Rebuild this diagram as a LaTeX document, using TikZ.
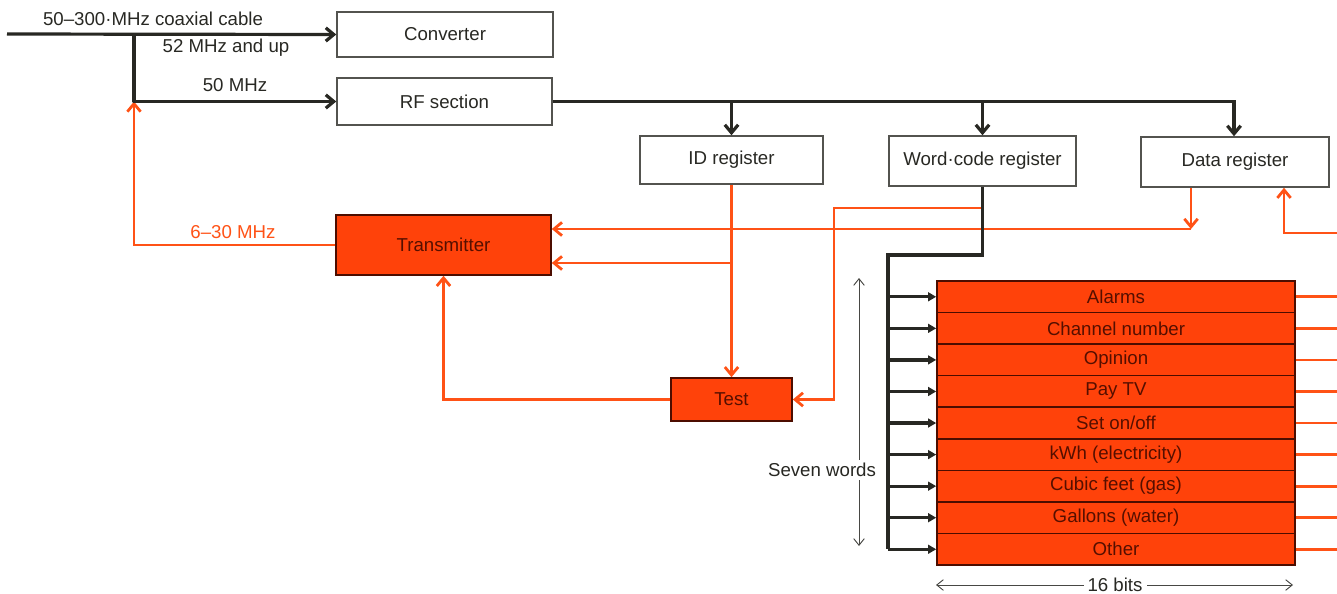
\documentclass[tikz,border=0pt]{standalone}
\usepackage{fontspec}
\setmainfont{Liberation Sans}
\usetikzlibrary{arrows.meta}
\definecolor{org}{RGB}{255,82,22}
\definecolor{orgfill}{RGB}{255,66,10}
\definecolor{ink}{RGB}{40,40,35}
\definecolor{redink}{RGB}{85,15,0}
\begin{document}
\begin{tikzpicture}[x=0.75pt,y=-0.75pt,
 font=\fontsize{14}{16}\selectfont,
 wbox/.style={draw=ink!80, line width=1.1pt, fill=white, inner sep=0pt, text=ink},
 obox/.style={draw=redink!90!black, line width=1.2pt, fill=orgfill, inner sep=0pt, text=redink},
 bl/.style={draw=ink, line width=2.4pt},
 ol/.style={draw=org, line width=2.1pt},
 barb/.style={-{Straight Barb[length=6pt,width=10pt]}},
 tri/.style={-{Triangle[length=6pt,width=6.5pt]}},
 thinarr/.style={draw=ink!85, line width=0.7pt, {Straight Barb[length=5pt,width=8pt]}-{Straight Barb[length=5pt,width=8pt]}},
 lbl/.style={text=ink, inner sep=1pt},
]
\useasboundingbox (0,0) rectangle (1337,593);

% boxes
\node[wbox, minimum width=162pt, minimum height=33.75pt] (conv) at (445,34.5) {Converter};
\node[wbox, minimum width=161.25pt, minimum height=35.25pt] (rf) at (444.5,101.5) {RF section};
\node[wbox, minimum width=137.25pt, minimum height=36pt] (idr) at (731.5,160) {ID register};
\node[wbox, minimum width=140.25pt, minimum height=37.5pt] (wcr) at (982.5,161) {Word·code register};
\node[wbox, minimum width=141pt, minimum height=37.5pt] (dr) at (1235,162) {Data register};
\node[obox, minimum width=161.25pt, minimum height=45pt] (tx) at (443.5,245) {Transmitter};
\node[obox, minimum width=90.75pt, minimum height=32.25pt] (test) at (731.5,399.5) {Test};

\foreach \t [count=\i] in {Alarms,Channel number,Opinion,Pay TV,Set on/off,kWh (electricity),Cubic feet (gas),Gallons (water),Other}
  \node[obox, minimum width=268.5pt, minimum height=23.67pt] (r\i) at (1116,{296.78+(\i-1)*31.56}) {\t};

% coordinates
\coordinate (in) at (7,34);
\coordinate (br) at (134,34);
\coordinate (rfj) at (134,101.5);
\coordinate (bus2) at (1234,101.5);
\coordinate (bus) at (888,255);
\coordinate (redge) at (1337,0);
\coordinate (dout) at (1191,229);
\coordinate (idj) at (731.5,263);
\coordinate (wj) at (982.5,208);
\coordinate (wl) at (834,208);
\coordinate (din) at (1284,233);
\coordinate (sw1) at (859,278);
\coordinate (sw2) at (859,546);
\coordinate (b1) at (936,585);
\coordinate (b2) at (1293,585);

% orange connectors
\draw[ol,barb] (tx.west) -- (tx.west -| rfj) -- (rfj);
\draw[ol,barb] (dout |- dr.south) -- (dout);
\draw[ol,barb] (dout) -- (dout -| tx.east);
\draw[ol,barb] (idr.south) -- (test.north);
\draw[ol,barb] (idj) -- (idj -| tx.east);
\draw[ol,barb] (wj) -- (wl) -- (wl |- test.east) -- (test.east);
\draw[ol,barb] (test.west) -- (test.west -| tx.south) -- (tx.south);
\draw[ol,barb] (redge |- din) -- (din) -- (din |- dr.south);
\foreach \i in {1,...,9}
  \draw[ol] (r\i.east) -- (redge |- r\i.east);

% black connectors
\draw[bl,barb] (in) -- (conv.west);
\draw[bl,barb,line join=round] (br) -- (rfj) -- (rf.west);
\draw[bl,barb] (rf.east) -- (bus2) -- (bus2 |- dr.north);
\draw[bl,barb] (idr.north |- rf.east) -- (idr.north);
\draw[bl,barb] (wcr.north |- rf.east) -- (wcr.north);
\draw[bl] (wcr.south) -- (wcr.south |- bus) -- (bus) -- (bus |- r9.west);
\foreach \i in {1,...,9}
  \draw[bl,tri] (bus |- r\i.west) -- (r\i.west);

% dimension arrows
\draw[thinarr] (sw1) -- (sw2);
\node[lbl, fill=white, inner sep=2pt] (sevw) at (822,470) {Seven words};
\draw[thinarr] (b1) -- (b2);
\node[lbl, fill=white, inner sep=3pt] (bits) at (1115,585) {16 bits};

% labels
\node[lbl] (l1) at (153,19) {50–300·MHz coaxial cable};
\node[lbl] (l2) at (226,48) {52 MHz and up};
\node[lbl] (l3) at (235,85) {50 MHz};
\node[lbl, text=org] (l4) at (233,232) {6–30 MHz};
\end{tikzpicture}
\end{document}
